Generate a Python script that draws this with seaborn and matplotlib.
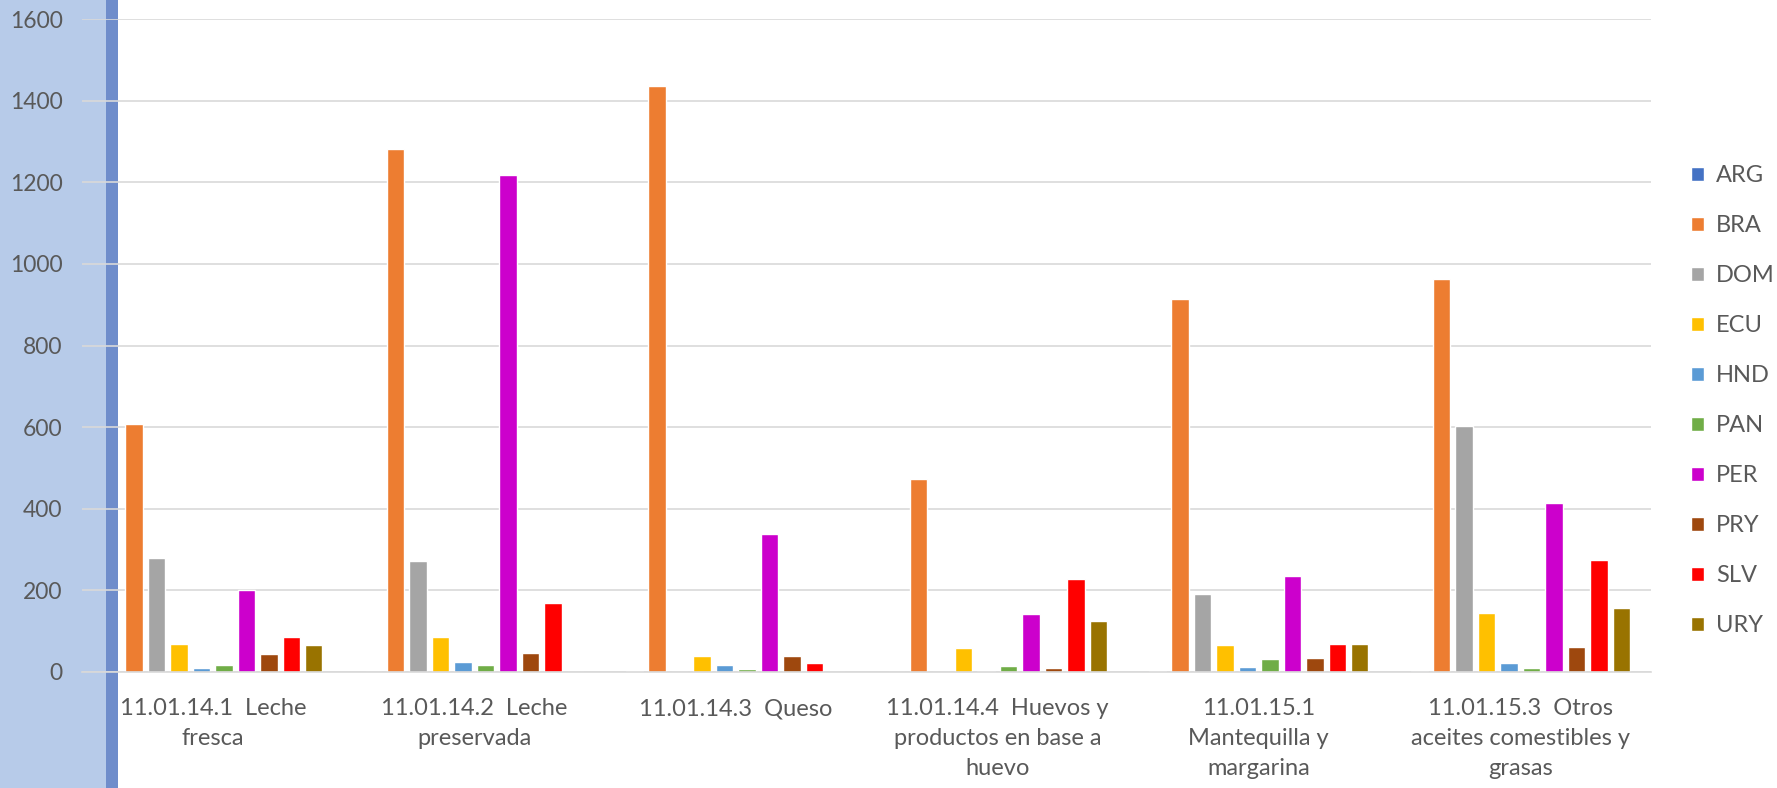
import seaborn as sns
import pandas as pd
import matplotlib.pyplot as plt
from matplotlib.patches import Rectangle

# Data
categories = [
    "11.01.14.1  Leche\nfresca",
    "11.01.14.2  Leche\npreservada",
    "11.01.14.3  Queso",
    "11.01.14.4  Huevos y\nproductos en base a\nhuevo",
    "11.01.15.1\nMantequilla y\nmargarina",
    "11.01.15.3  Otros\naceites comestibles y\ngrasas",
]
countries = ["ARG", "BRA", "DOM", "ECU", "HND", "PAN", "PER", "PRY", "SLV", "URY"]

arg = [1, 0, 2, 0, 2, 2]
bra = [608, 1282, 1436, 474, 914, 963]
dom = [280, 273, 0, 0, 190, 603]
ecu = [69, 86, 39, 58, 67, 144]
hnd = [11, 24, 16, 2, 13, 23]
pan = [16, 18, 7, 15, 31, 10]
per = [202, 1217, 337, 143, 235, 415]
pry = [43, 46, 39, 11, 34, 61]
slv = [86, 169, 21, 227, 68, 275]
ury = [66, 0, 0, 126, 68, 158]

colors = ["#4472C4", "#ED7D31", "#A5A5A5", "#FFC000", "#5B9BD5",
          "#70AD47", "#CC00CC", "#9E480E", "#FF0000", "#997300"]

series = [arg, bra, dom, ecu, hnd, pan, per, pry, slv, ury]
rows = []
for c, vals in zip(countries, series):
    for cat, v in zip(categories, vals):
        rows.append({"Categoria": cat, "Pais": c, "Valor": v})
df = pd.DataFrame(rows)

sns.set_style("white")
plt.rcParams['font.family'] = ['Lato', 'DejaVu Sans']

W, H = 1777, 788
fig = plt.figure(figsize=(W / 100, H / 100), dpi=100)
fig.patch.set_facecolor("white")

# left decorative strip
fig.patches.append(Rectangle((0, 0), 106 / W, 1, transform=fig.transFigure,
                             facecolor="#B7CBE9", edgecolor="none", zorder=-2))
fig.patches.append(Rectangle((106 / W, 0), 12 / W, 1, transform=fig.transFigure,
                             facecolor="#6F8DCB", edgecolor="none", zorder=-1))

ax = fig.add_axes([82 / W, 1 - 672 / H, (1651 - 82) / W, (672 - 19) / H])
ax.set_facecolor("none")

sns.barplot(data=df, x="Categoria", y="Valor", hue="Pais", order=categories,
            hue_order=countries, palette=colors, saturation=1,
            width=0.86, gap=0.24, ax=ax, legend=True)

ax.set_ylim(0, 1600)
ax.set_xlim(-0.5, 5.5)
ax.set_yticks(range(0, 1601, 200))
ax.set_xlabel("")
ax.set_ylabel("")
ax.grid(axis="y", color="#D9D9D9", linewidth=1.2)
ax.set_axisbelow(True)
for s in ["top", "right", "left"]:
    ax.spines[s].set_visible(False)
ax.spines["bottom"].set_color("#D9D9D9")
ax.spines["bottom"].set_linewidth(1.2)

ax.tick_params(axis="y", length=0, pad=14, labelsize=16.5, labelcolor="#595959")
ax.tick_params(axis="x", length=0, pad=19, labelsize=17, labelcolor="#595959")
for lbl in ax.get_xticklabels():
    lbl.set_linespacing(1.52)
    lbl.set_ha("center")

handles, labels = ax.get_legend_handles_labels()
ax.legend(handles, labels, loc="upper left", bbox_to_anchor=(1691 / W, 1 - 165 / H),
          bbox_transform=fig.transFigure, frameon=False, fontsize=17,
          handlelength=0.55, handleheight=0.55, handletextpad=0.5,
          labelspacing=1.23, borderpad=0, borderaxespad=0, labelcolor="#595959")

plt.savefig("out.png", dpi=100)
